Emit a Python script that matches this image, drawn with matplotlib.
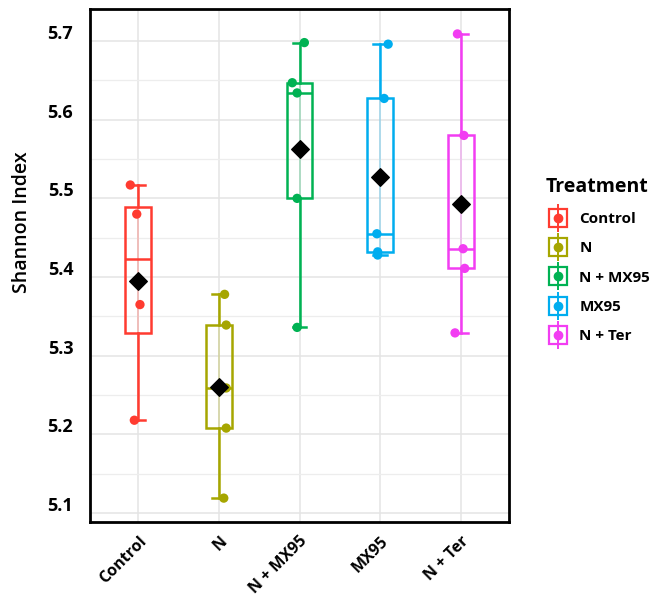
import numpy as np
import matplotlib
matplotlib.use('Agg')
import matplotlib.pyplot as plt
from matplotlib.lines import Line2D
from matplotlib.legend_handler import HandlerTuple
from matplotlib.transforms import ScaledTranslation

plt.rcParams['font.family'] = ['Open Sans', 'DejaVu Sans']

# Datos (indice de Shannon por tratamiento)
tratamientos = ['Control', 'N', 'N + MX95', 'MX95', 'N + Ter']
control = [5.517, 5.480, 5.365, 5.218]
n_sol = [5.378, 5.339, 5.259, 5.208, 5.119]
n_mx95 = [5.698, 5.647, 5.634, 5.500, 5.336]
mx95 = [5.696, 5.627, 5.455, 5.432, 5.428]
n_ter = [5.709, 5.580, 5.436, 5.411, 5.329]
valores = [control, n_sol, n_mx95, mx95, n_ter]

# desplazamiento horizontal de los puntos (jitter)
jitter = [[-0.10, -0.02, 0.02, -0.05],
          [0.07, 0.09, 0.09, 0.09, 0.06],
          [0.06, -0.09, -0.03, -0.03, -0.03],
          [0.10, 0.05, -0.04, -0.03, -0.03],
          [-0.04, 0.04, 0.03, 0.05, -0.07]]

colores = ['#FF3B30', '#A6A600', '#00B253', '#00ADEF', '#F23DF2']

fig = plt.figure(figsize=(6.59, 6.08), dpi=100)
ax = fig.add_axes([0.1366, 0.1414, 0.6358, 0.8438])

pos = np.arange(1, len(tratamientos) + 1)

for i, (vals, col) in enumerate(zip(valores, colores)):
    p = pos[i]
    # linea central tenue dentro de la caja
    ax.plot([p, p], [min(vals), max(vals)], color=col, lw=1.2, alpha=0.3, zorder=2)
    bp = ax.boxplot([vals], positions=[p], widths=0.32, whis=(0, 100),
                    showfliers=False, patch_artist=True, capwidths=0.17,
                    manage_ticks=False)
    for b in bp['boxes']:
        b.set_facecolor('none')
        b.set_edgecolor(col)
        b.set_linewidth(1.8)
        b.set_zorder(3)
    for k in ['whiskers', 'caps', 'medians']:
        for ln in bp[k]:
            ln.set_color(col)
            ln.set_linewidth(1.8)
            ln.set_zorder(3)
    ax.scatter(p + np.array(jitter[i]), vals, s=45, color=col, zorder=4,
               edgecolors='none')
    ax.scatter([p], [np.mean(vals)], marker='D', s=80, color='black', zorder=5)

ax.set_xticks(pos)
ax.set_xticklabels(tratamientos, rotation=45, ha='right', va='top',
                   rotation_mode='anchor', fontsize=11.5, fontweight='bold')
ax.set_yticks([5.1, 5.2, 5.3, 5.4, 5.5, 5.6, 5.7])
ax.set_yticks([5.15, 5.25, 5.35, 5.45, 5.55, 5.65], minor=True)
ax.set_yticklabels(['5.1', '5.2', '5.3', '5.4', '5.5', '5.6', '5.7'],
                   fontsize=13, fontweight='bold')
# limites despues de los ticks (set_yticks puede ampliarlos)
ax.set_xlim(0.4, 5.6)
ax.set_ylim(5.0886, 5.7407)
ax.tick_params(axis='both', which='both', length=0)
ax.tick_params(axis='y', pad=12)
ax.tick_params(axis='x', pad=8)

# las etiquetas del eje y aparecen un poco por encima de la rejilla
for lab in ax.get_yticklabels():
    lab.set_transform(lab.get_transform() + ScaledTranslation(0, 9 / 100, fig.dpi_scale_trans))

ax.grid(True, which='major', color='#E4E4E4', lw=1.1)
ax.grid(True, which='minor', axis='y', color='#EDEDED', lw=0.9)
ax.set_axisbelow(True)
for s in ax.spines.values():
    s.set_linewidth(2)
    s.set_color('black')

fig.text(22 / 659, 1 - 222 / 608, 'Shannon Index', rotation=90, ha='center',
         va='center', fontsize=14, fontweight='semibold')

handles = []
for col in colores:
    caja = Line2D([], [], marker='s', markersize=13, markerfacecolor='none',
                  markeredgecolor=col, markeredgewidth=1.6, linestyle='none')
    barra = Line2D([], [], marker='|', markersize=20, color=col,
                   markeredgewidth=1.4, linestyle='none')
    punto = Line2D([], [], marker='o', markersize=6, color=col, linestyle='none')
    handles.append((barra, caja, punto))

leg = fig.legend(handles, tratamientos, handler_map={tuple: HandlerTuple(ndivide=1)},
                 loc='center left', bbox_to_anchor=(532 / 659, 1 - 260 / 608),
                 frameon=False, title='Treatment', handlelength=1.6,
                 labelspacing=1.0, handletextpad=0.6,
                 prop={'size': 11, 'weight': 'bold'},
                 title_fontproperties={'size': 14, 'weight': 'bold'})
leg._legend_box.align = 'left'

fig.savefig('out.png', dpi=100)
